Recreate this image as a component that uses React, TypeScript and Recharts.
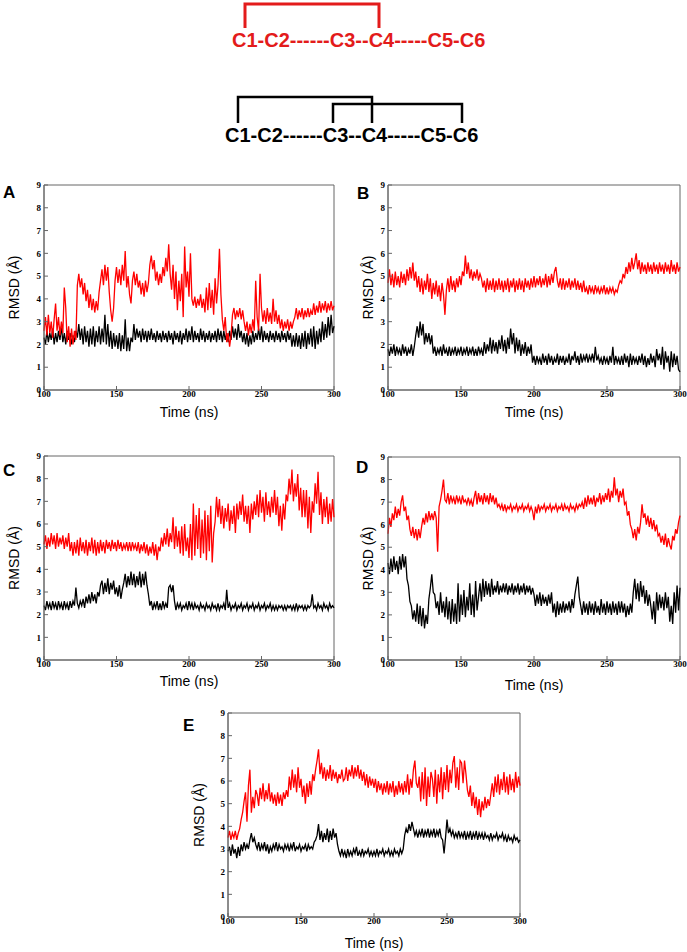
import React from 'react';
import { LineChart, Line, XAxis, YAxis, ReferenceArea } from 'recharts';

// trajectory sampled every 1 ns from 100 to 300 ns
const T_START = 100;
const T_STEP = 1;

const X_TICKS = [100, 150, 200, 250, 300];
const Y_TICKS = [0, 1, 2, 3, 4, 5, 6, 7, 8, 9];

// RMSD (Å), one row = 20 ns
const A_RED = [
  2.6, 3.2, 2.4, 3.3, 2.5, 3.0, 2.3, 3.1, 3.8, 2.6, 3.2, 2.4, 3.0, 2.5, 4.5, 3.6, 2.1, 2.8, 1.9, 2.7,
  2.0, 2.6, 2.2, 4.6, 5.1, 4.5, 4.9, 4.2, 4.7, 3.9, 4.4, 3.6, 4.2, 3.5, 4.0, 3.4, 3.9, 3.5, 4.3, 4.8,
  5.3, 4.6, 5.5, 4.8, 5.4, 4.3, 3.5, 3.0, 3.6, 4.8, 5.4, 4.7, 5.3, 4.6, 5.5, 4.8, 6.1, 4.5, 5.0, 4.2,
  3.8, 4.8, 5.2, 4.6, 5.1, 4.5, 4.8, 4.2, 4.7, 4.1, 4.8, 4.3, 4.7, 5.5, 5.9, 5.3, 5.7, 4.8, 5.2, 4.6,
  5.1, 4.7, 5.4, 5.0, 5.8, 5.2, 6.4, 5.1, 4.4, 5.5, 4.0, 5.2, 3.5, 4.8, 3.9, 5.1, 3.2, 6.3, 4.5, 5.2,
  4.1, 6.0, 4.0, 3.7, 4.1, 3.6, 4.0, 3.7, 4.2, 3.6, 4.0, 3.4, 4.5, 3.5, 4.7, 3.6, 4.4, 3.3, 4.9, 3.8,
  4.6, 6.2, 4.2, 3.1, 2.6, 3.2, 2.1, 2.5, 1.9, 2.4, 3.3, 3.6, 3.1, 3.5, 3.2, 3.6, 3.1, 3.5, 3.0, 2.6,
  3.0, 2.4, 2.9, 2.5, 3.1, 2.6, 4.8, 3.2, 2.6, 5.1, 3.6, 3.0, 3.5, 2.9, 3.6, 3.0, 3.4, 2.9, 4.0, 3.0,
  3.5, 2.9, 3.3, 2.7, 3.1, 2.6, 3.0, 2.7, 3.1, 2.6, 3.0, 2.7, 3.0, 3.2, 3.6, 3.1, 3.5, 3.2, 3.6, 3.1,
  3.5, 3.2, 3.6, 3.2, 3.5, 3.3, 3.8, 3.3, 3.7, 3.4, 3.9, 3.4, 3.8, 3.5, 3.9, 3.4, 3.8, 3.5, 3.9, 3.5,
  3.7,
];
const A_BLACK = [
  2.3, 2.0, 2.6, 2.1, 2.5, 2.2, 2.7, 2.0, 2.5, 2.1, 2.6, 2.2, 2.8, 2.1, 2.5, 2.0, 2.6, 2.2, 2.5, 2.0,
  2.4, 2.1, 2.6, 2.3, 2.9, 2.2, 2.7, 2.0, 2.8, 2.1, 2.6, 1.9, 2.7, 2.0, 2.8, 1.9, 2.6, 2.1, 2.8, 2.0,
  2.7, 2.1, 3.3, 2.0, 2.9, 1.9, 2.6, 1.8, 2.5, 1.9, 2.4, 1.8, 2.5, 1.7, 2.4, 1.8, 3.1, 1.7, 2.3, 1.7,
  2.3, 2.1, 2.9, 2.2, 2.7, 2.3, 2.6, 2.1, 2.7, 2.2, 2.6, 2.1, 2.6, 2.2, 2.7, 2.2, 2.5, 2.1, 2.6, 2.2,
  2.5, 2.1, 2.6, 2.2, 2.5, 2.1, 2.6, 2.2, 2.5, 2.0, 2.6, 2.2, 2.5, 2.1, 2.6, 2.0, 2.5, 2.2, 2.7, 2.1,
  2.6, 2.2, 2.8, 2.1, 2.6, 2.2, 2.5, 2.1, 2.7, 2.2, 2.6, 2.1, 2.5, 2.2, 2.6, 2.1, 2.5, 2.2, 2.6, 2.1,
  2.7, 2.2, 2.6, 2.1, 2.6, 2.2, 2.5, 2.1, 2.6, 2.2, 2.8, 2.3, 2.7, 2.2, 2.9, 2.3, 2.6, 2.1, 2.5, 2.0,
  2.5, 1.9, 2.4, 2.0, 2.6, 2.1, 2.5, 2.2, 2.7, 2.2, 2.8, 2.1, 2.6, 2.2, 2.5, 2.1, 2.6, 2.2, 2.5, 2.1,
  2.6, 2.2, 2.5, 2.1, 2.6, 2.2, 2.5, 2.1, 2.6, 2.2, 2.5, 1.9, 2.4, 1.9, 2.5, 1.9, 2.4, 1.8, 2.5, 1.9,
  2.6, 1.8, 2.5, 2.0, 2.7, 1.9, 2.8, 1.8, 2.6, 2.0, 2.7, 2.1, 3.0, 2.2, 2.9, 2.3, 3.2, 2.4, 3.3, 2.5,
  2.8,
];

const B_RED = [
  4.7, 5.3, 4.6, 5.1, 4.5, 5.2, 4.6, 5.0, 4.5, 5.2, 4.7, 5.1, 4.6, 5.3, 4.8, 5.4, 4.9, 5.6, 4.8, 5.2,
  4.5, 5.0, 4.3, 4.9, 4.2, 4.8, 4.4, 5.1, 4.3, 4.9, 4.0, 4.7, 4.2, 4.8, 4.1, 4.6, 3.9, 4.7, 4.2, 3.3,
  4.4, 4.9, 4.3, 5.0, 4.4, 4.8, 4.3, 4.9, 4.5, 5.0, 4.6, 5.2, 5.0, 5.9, 5.1, 5.6, 4.9, 5.3, 4.8, 5.2,
  4.9, 5.3, 4.8, 5.1, 4.9, 4.5, 4.8, 4.3, 4.9, 4.4, 4.8, 4.4, 4.9, 4.3, 4.8, 4.4, 4.9, 4.4, 4.8, 4.3,
  4.8, 4.4, 4.9, 4.3, 4.8, 4.5, 4.9, 4.3, 4.8, 4.4, 4.9, 4.4, 4.8, 4.3, 4.9, 4.5, 4.8, 4.4, 4.9, 4.5,
  5.0, 4.5, 4.9, 4.6, 5.0, 4.5, 4.9, 4.6, 5.1, 4.5, 5.0, 4.6, 5.1, 4.7, 5.2, 5.4, 4.8, 4.5, 4.9, 4.4,
  4.9, 4.4, 4.8, 4.5, 4.9, 4.4, 4.8, 4.5, 4.9, 4.4, 4.8, 4.4, 4.7, 4.3, 4.8, 4.3, 4.5, 4.2, 4.6, 4.3,
  4.5, 4.2, 4.6, 4.3, 4.5, 4.2, 4.5, 4.3, 4.6, 4.2, 4.5, 4.2, 4.5, 4.3, 4.5, 4.2, 4.4, 4.3, 4.6, 4.8,
  4.7, 5.1, 4.9, 5.4, 5.1, 5.6, 5.2, 5.8, 5.3, 5.6, 6.0, 5.3, 5.7, 5.1, 5.6, 5.2, 5.5, 5.1, 5.6, 5.2,
  5.5, 5.1, 5.6, 5.2, 5.5, 5.1, 5.6, 5.2, 5.5, 5.1, 5.6, 5.2, 5.5, 5.1, 5.7, 5.2, 5.5, 5.1, 5.6, 5.2,
  5.4,
];
const B_BLACK = [
  1.8, 1.5, 1.9, 1.6, 2.0, 1.5, 1.9, 1.6, 1.8, 1.5, 2.0, 1.6, 1.9, 1.5, 1.8, 1.6, 2.0, 1.5, 1.9, 2.4,
  2.8, 2.3, 3.0, 2.4, 2.9, 2.0, 2.5, 2.1, 2.5, 2.0, 2.4, 1.6, 1.9, 1.5, 1.8, 1.6, 1.9, 1.5, 2.0, 1.6,
  1.8, 1.5, 1.9, 1.5, 1.8, 1.6, 1.9, 1.5, 1.8, 1.6, 1.9, 1.5, 1.8, 1.6, 1.9, 1.5, 1.8, 1.6, 1.9, 1.5,
  1.8, 1.5, 1.9, 1.6, 1.8, 1.5, 2.1, 1.6, 2.0, 1.7, 2.3, 1.6, 2.2, 1.7, 2.1, 1.6, 2.2, 1.8, 2.4, 1.7,
  2.2, 1.6, 2.3, 1.8, 2.7, 2.0, 2.5, 1.6, 2.3, 1.7, 2.2, 1.5, 2.0, 1.6, 2.1, 1.5, 1.9, 1.6, 2.0, 1.2,
  1.5, 1.1, 1.5, 1.2, 1.4, 1.1, 1.6, 1.2, 1.5, 1.1, 1.6, 1.2, 1.5, 1.1, 1.4, 1.2, 1.6, 1.1, 1.5, 1.2,
  1.5, 1.1, 1.4, 1.2, 1.6, 1.1, 1.5, 1.3, 1.7, 1.2, 1.5, 1.1, 1.6, 1.2, 1.5, 1.3, 1.6, 1.2, 1.5, 1.3,
  1.6, 1.2, 1.9, 1.3, 1.5, 1.2, 1.4, 1.1, 1.5, 1.2, 1.4, 1.1, 1.5, 1.2, 1.9, 1.1, 1.5, 1.2, 1.4, 1.1,
  1.5, 1.1, 1.6, 1.2, 1.5, 1.0, 1.6, 1.1, 1.5, 1.2, 1.4, 1.1, 1.5, 1.2, 1.6, 1.1, 1.5, 1.0, 1.4, 1.1,
  1.6, 1.2, 1.5, 1.0, 1.8, 1.3, 1.6, 1.1, 1.9, 0.9, 1.7, 1.2, 1.5, 0.8, 1.7, 1.0, 1.6, 1.1, 1.5, 0.9,
  0.8,
];

const C_RED = [
  5.1, 5.5, 4.9, 5.4, 5.0, 5.6, 5.1, 5.5, 4.9, 5.6, 5.0, 5.4, 5.1, 5.5, 4.9, 5.4, 5.0, 5.6, 4.8, 5.2,
  4.6, 5.2, 4.7, 5.3, 4.6, 5.4, 4.8, 5.2, 4.7, 5.3, 4.6, 5.2, 4.8, 5.4, 4.7, 5.3, 4.6, 5.2, 4.7, 5.3,
  4.8, 5.2, 4.7, 5.3, 4.9, 5.2, 4.8, 5.3, 4.9, 5.2, 4.8, 5.3, 4.9, 5.2, 4.8, 5.1, 4.9, 5.2, 4.8, 5.2,
  4.8, 5.2, 4.9, 5.1, 4.8, 5.2, 4.7, 5.1, 4.8, 5.2, 4.7, 5.1, 4.6, 5.0, 4.7, 5.2, 4.6, 5.1, 4.4, 5.0,
  4.8, 5.4, 5.0, 5.6, 5.1, 5.8, 5.0, 5.6, 5.2, 6.3, 4.9, 5.9, 5.0, 5.7, 4.7, 5.9, 4.6, 6.0, 4.8, 5.4,
  4.5, 6.0, 4.4, 6.9, 4.6, 6.4, 4.9, 6.7, 4.5, 6.2, 4.7, 6.6, 4.4, 6.4, 4.8, 6.8, 4.3, 5.6, 6.1, 7.2,
  6.3, 7.1, 6.0, 6.8, 5.8, 6.7, 6.1, 6.9, 5.7, 6.6, 6.0, 6.8, 5.6, 6.9, 6.2, 7.0, 6.4, 7.3, 6.1, 6.8,
  6.0, 6.8, 5.6, 6.9, 6.2, 7.0, 6.4, 7.3, 6.3, 7.5, 6.5, 7.2, 6.1, 7.4, 6.4, 7.0, 6.3, 7.2, 6.5, 7.5,
  6.4, 7.2, 5.9, 6.8, 5.7, 6.9, 6.2, 7.3, 7.0, 8.0, 7.3, 8.4, 7.0, 7.8, 7.2, 8.2, 6.6, 7.6, 6.3, 7.5,
  6.3, 7.5, 5.8, 7.2, 5.6, 7.0, 6.5, 7.8, 6.9, 8.3, 6.4, 7.4, 6.0, 7.1, 6.3, 7.2, 6.0, 6.9, 6.1, 7.1,
  6.3,
];
const C_BLACK = [
  2.4, 2.2, 2.6, 2.3, 2.5, 2.2, 2.6, 2.3, 2.5, 2.2, 2.6, 2.3, 2.5, 2.2, 2.6, 2.3, 2.5, 2.2, 2.6, 2.3,
  2.6, 2.4, 3.2, 2.5, 2.3, 2.6, 2.4, 2.7, 2.3, 2.8, 2.5, 2.9, 2.5, 3.0, 2.6, 2.9, 2.5, 3.0, 2.8, 3.3,
  3.5, 2.9, 3.4, 3.0, 3.6, 2.9, 3.4, 3.1, 3.5, 2.9, 3.2, 2.8, 3.3, 2.7, 3.1, 3.4, 3.8, 3.2, 3.7, 3.3,
  3.9, 3.3, 3.8, 3.2, 3.7, 3.3, 3.9, 3.2, 3.8, 3.3, 3.9, 3.3, 2.9, 2.4, 2.6, 2.2, 2.5, 2.3, 2.6, 2.2,
  2.5, 2.2, 2.6, 2.3, 2.5, 2.3, 3.2, 3.3, 3.0, 3.3, 2.6, 2.2, 2.5, 2.3, 2.5, 2.2, 2.4, 2.3, 2.5, 2.2,
  2.6, 2.3, 2.5, 2.2, 2.5, 2.3, 2.4, 2.2, 2.5, 2.3, 2.4, 2.2, 2.5, 2.3, 2.4, 2.2, 2.5, 2.3, 2.4, 2.2,
  2.5, 2.2, 2.4, 2.3, 2.5, 2.2, 3.1, 2.3, 2.5, 2.2, 2.4, 2.3, 2.5, 2.2, 2.4, 2.3, 2.5, 2.2, 2.4, 2.3,
  2.5, 2.2, 2.4, 2.3, 2.5, 2.2, 2.4, 2.3, 2.5, 2.2, 2.4, 2.3, 2.5, 2.2, 2.4, 2.3, 2.5, 2.2, 2.4, 2.2,
  2.4, 2.2, 2.4, 2.3, 2.4, 2.2, 2.4, 2.2, 2.4, 2.3, 2.4, 2.2, 2.4, 2.2, 2.5, 2.2, 2.4, 2.3, 2.4, 2.2,
  2.4, 2.2, 2.4, 2.3, 2.4, 2.9, 2.3, 2.4, 2.2, 2.5, 2.3, 2.4, 2.2, 2.5, 2.3, 2.4, 2.2, 2.5, 2.3, 2.4,
  2.3,
];

const D_RED = [
  5.6, 6.3, 5.9, 6.5, 6.2, 6.8, 6.3, 6.7, 6.4, 7.0, 7.3, 6.6, 6.8, 6.2, 6.4, 5.8, 5.5, 5.9, 5.4, 5.8,
  5.3, 5.8, 5.4, 5.9, 6.3, 6.0, 6.5, 6.1, 6.6, 6.2, 6.5, 6.2, 6.6, 6.3, 4.8, 6.8, 7.1, 7.5, 8.0, 7.1,
  7.0, 7.4, 6.9, 7.3, 7.0, 7.2, 6.9, 7.3, 7.0, 7.2, 6.9, 7.3, 7.0, 7.1, 6.9, 7.2, 6.9, 7.1, 6.8, 7.2,
  7.5, 6.9, 7.4, 7.0, 7.3, 6.9, 7.4, 7.0, 7.3, 6.9, 7.4, 7.0, 7.3, 6.9, 7.2, 6.8, 6.9, 6.7, 6.9, 6.6,
  6.9, 6.6, 6.8, 6.7, 6.9, 6.6, 6.8, 6.7, 6.9, 6.6, 6.8, 6.7, 6.9, 6.6, 6.8, 6.7, 6.9, 6.6, 6.8, 6.6,
  6.2, 6.8, 6.5, 6.9, 6.6, 6.8, 6.7, 6.9, 6.6, 6.8, 6.7, 6.9, 6.6, 6.8, 6.7, 6.9, 6.6, 6.8, 6.7, 6.9,
  6.6, 6.9, 6.7, 6.8, 6.6, 6.9, 6.7, 6.8, 6.6, 6.9, 6.7, 6.9, 6.8, 7.0, 6.7, 7.2, 6.8, 7.3, 6.9, 7.2,
  6.9, 7.3, 6.8, 7.2, 7.0, 7.4, 6.9, 7.3, 7.0, 7.4, 7.1, 7.6, 7.0, 7.5, 7.2, 8.1, 7.3, 7.6, 7.0, 7.5,
  7.2, 7.6, 6.9, 7.0, 6.4, 6.6, 6.0, 5.8, 5.4, 5.8, 5.3, 5.9, 5.6, 6.1, 6.9, 6.3, 6.5, 6.0, 6.4, 5.9,
  6.3, 5.8, 6.2, 5.7, 6.0, 5.5, 5.6, 5.2, 5.5, 5.1, 5.6, 5.0, 5.4, 5.1, 4.9, 5.5, 5.3, 5.8, 5.6, 6.1,
  6.4,
];
const D_BLACK = [
  4.3, 3.8, 4.5, 3.9, 4.6, 4.0, 4.4, 3.8, 4.6, 4.0, 4.7, 4.1, 4.6, 3.6, 3.3, 2.6, 2.4, 1.8, 2.2, 1.7,
  2.5, 1.6, 2.4, 1.5, 2.3, 1.4, 2.0, 1.6, 2.7, 3.2, 3.8, 3.0, 2.9, 2.3, 2.6, 2.0, 3.0, 2.1, 2.6, 1.9,
  2.8, 1.8, 2.6, 1.6, 2.7, 1.7, 2.5, 1.6, 3.4, 1.7, 2.9, 2.0, 3.1, 1.9, 2.8, 2.2, 3.4, 2.0, 2.9, 1.9,
  3.5, 2.2, 2.8, 3.4, 2.6, 3.6, 2.8, 3.5, 2.9, 3.4, 2.8, 3.6, 2.9, 3.3, 3.0, 3.5, 2.9, 3.3, 3.0, 3.4,
  3.0, 3.4, 2.9, 3.3, 3.0, 3.4, 2.9, 3.3, 3.0, 3.4, 2.9, 3.3, 3.0, 3.4, 2.9, 3.3, 3.0, 3.3, 2.9, 3.2,
  2.9, 2.4, 2.9, 2.5, 3.0, 2.4, 2.9, 2.5, 2.8, 2.4, 2.9, 2.5, 3.0, 2.1, 2.5, 1.9, 2.6, 2.0, 2.5, 2.1,
  2.6, 2.1, 2.5, 2.2, 2.6, 2.1, 2.7, 2.3, 2.9, 3.3, 3.7, 2.8, 2.4, 2.0, 2.6, 2.1, 2.5, 2.0, 2.6, 2.1,
  2.5, 2.0, 2.6, 2.1, 2.4, 2.0, 2.7, 2.1, 2.5, 2.0, 2.6, 2.1, 2.5, 2.0, 2.6, 2.1, 2.5, 2.0, 2.6, 2.1,
  2.6, 2.1, 2.5, 1.9, 2.4, 2.0, 2.5, 2.1, 3.0, 3.6, 2.7, 3.4, 2.6, 3.5, 2.8, 3.3, 2.5, 3.1, 2.4, 2.9,
  2.4, 1.8, 2.6, 1.6, 3.0, 2.2, 2.9, 2.3, 2.8, 2.2, 3.0, 2.3, 2.8, 1.7, 2.4, 1.6, 3.0, 2.1, 3.3, 2.2,
  3.2,
];

const E_RED = [
  3.5, 3.8, 3.4, 3.7, 3.5, 3.8, 3.4, 3.7, 3.9, 4.3, 4.6, 5.1, 5.5, 4.2, 5.8, 6.5, 4.6, 5.3, 4.8, 5.6,
  5.4, 4.9, 5.7, 5.2, 5.9, 5.1, 5.6, 5.2, 5.9, 5.1, 5.5, 5.0, 5.4, 4.9, 5.5, 5.0, 5.4, 4.9, 5.5, 5.2,
  5.6, 5.3, 6.2, 5.6, 6.5, 5.7, 6.3, 5.5, 6.6, 5.7, 6.1, 5.3, 5.8, 5.0, 5.9, 5.3, 6.0, 5.4, 6.3, 6.0,
  6.5, 6.9, 7.4, 6.3, 6.8, 6.1, 6.6, 6.0, 6.5, 6.1, 6.7, 6.0, 6.5, 6.1, 6.4, 5.9, 6.3, 6.1, 6.5, 6.0,
  6.1, 6.6, 6.0, 6.5, 6.2, 6.7, 6.1, 6.6, 6.2, 6.7, 6.1, 6.5, 6.0, 6.4, 5.8, 6.3, 5.7, 6.2, 5.8, 6.1,
  5.7, 6.1, 5.5, 6.0, 5.6, 5.9, 5.4, 5.9, 5.5, 6.0, 5.4, 5.9, 5.5, 6.0, 5.3, 5.8, 5.4, 6.0, 5.5, 5.9,
  5.4, 6.0, 5.5, 6.3, 5.4, 6.1, 5.7, 6.5, 6.9, 5.9, 5.7, 6.2, 5.1, 6.4, 5.2, 6.6, 4.9, 6.2, 5.3, 6.4,
  6.1, 5.3, 6.5, 5.0, 6.3, 5.5, 6.6, 5.2, 6.4, 5.6, 6.7, 5.5, 6.5, 5.9, 6.8, 7.1, 5.7, 6.6, 5.6, 6.9,
  6.8, 5.9, 6.9, 6.3, 5.6, 5.3, 5.8, 4.9, 5.5, 4.8, 5.3, 4.5, 5.2, 4.4, 5.1, 4.7, 5.3, 4.8, 5.2, 4.9,
  5.4, 5.9, 5.3, 6.2, 5.5, 6.3, 5.4, 6.1, 5.6, 6.4, 5.5, 6.2, 5.4, 6.3, 5.6, 6.1, 5.5, 6.4, 5.7, 6.2,
  5.8,
];
const E_BLACK = [
  2.9, 3.1, 2.7, 3.2, 2.8, 3.0, 2.6, 3.1, 2.7, 3.2, 2.9, 3.3, 3.0, 3.2, 3.0, 3.4, 3.7, 3.3, 3.5, 3.2,
  3.0, 3.3, 2.9, 3.2, 3.0, 3.3, 2.9, 3.2, 2.8, 3.1, 2.9, 3.2, 3.0, 3.3, 2.9, 3.2, 3.0, 3.1, 2.9, 3.2,
  3.0, 3.2, 2.9, 3.2, 3.0, 3.3, 2.9, 3.1, 3.0, 3.2, 2.9, 3.1, 3.0, 3.2, 2.9, 3.2, 3.0, 3.1, 3.0, 3.3,
  3.4, 3.6, 4.1, 3.4, 3.8, 3.3, 3.7, 3.4, 3.9, 3.3, 3.8, 3.4, 3.9, 3.5, 3.7, 3.2, 2.9, 2.7, 3.0, 2.7,
  2.9, 2.6, 3.0, 2.7, 2.9, 2.7, 3.0, 2.8, 3.1, 2.7, 2.9, 2.7, 3.0, 2.7, 2.9, 2.8, 3.0, 2.7, 2.9, 2.7,
  2.9, 2.7, 3.0, 2.7, 2.9, 2.8, 3.0, 2.7, 2.9, 2.8, 3.0, 2.7, 2.9, 2.7, 3.0, 2.8, 2.9, 2.7, 3.0, 2.8,
  3.0, 3.6, 3.9, 3.7, 4.1, 3.8, 4.2, 3.9, 3.6, 3.8, 3.5, 3.8, 3.6, 3.9, 3.5, 3.8, 3.6, 3.9, 3.5, 3.8,
  3.6, 3.9, 3.5, 3.8, 3.6, 3.9, 3.5, 3.4, 2.8, 3.5, 4.3, 3.7, 3.9, 3.6, 3.8, 3.5, 3.7, 3.5, 3.8, 3.5,
  3.7, 3.5, 3.8, 3.4, 3.7, 3.5, 3.8, 3.4, 3.7, 3.5, 3.8, 3.4, 3.7, 3.5, 3.7, 3.4, 3.7, 3.5, 3.6, 3.4,
  3.7, 3.4, 3.6, 3.5, 3.7, 3.4, 3.6, 3.5, 3.7, 3.4, 3.6, 3.3, 3.6, 3.4, 3.5, 3.3, 3.6, 3.4, 3.5, 3.3,
  3.4,
];

// where each panel sits on the page
const PANELS = [
  { id: 'A', red: A_RED, black: A_BLACK, left: 44, top: 185, w: 290, h: 205, yLab: 14, timeOff: 17 },
  { id: 'B', red: B_RED, black: B_BLACK, left: 388, top: 185, w: 292, h: 205, yLab: 24, timeOff: 17 },
  { id: 'C', red: C_RED, black: C_BLACK, left: 44, top: 456, w: 290, h: 204, yLab: 14, timeOff: 16 },
  { id: 'D', red: D_RED, black: D_BLACK, left: 388, top: 457, w: 292, h: 203, yLab: 24, timeOff: 20 },
  { id: 'E', red: E_RED, black: E_BLACK, left: 228, top: 713, w: 292, h: 204, yLab: 15, timeOff: 21 },
];

const LETTERS = [
  { id: 'A', x: 3, y: 198 },
  { id: 'B', x: 357, y: 199 },
  { id: 'C', x: 3, y: 476 },
  { id: 'D', x: 356, y: 473 },
  { id: 'E', x: 183, y: 731 },
];

const SANS = '"Liberation Sans", Arial, sans-serif';
const SERIF = '"Liberation Serif", "Times New Roman", serif';
const FRAME = '#666';

const tickStyle = { fontSize: 9, fontFamily: SERIF, fontWeight: 'bold', fill: '#000' };

function Panel({ p }: { p: (typeof PANELS)[number] }) {
  const rows = p.red.map((r, i) => ({ t: T_START + i * T_STEP, red: r, black: p.black[i] }));
  return (
    <div style={{ position: 'absolute', left: p.left - 44, top: p.top - 15 }}>
      <LineChart
        width={p.w + 54}
        height={p.h + 51}
        data={rows}
        margin={{ top: 15, right: 10, bottom: 0, left: 0 }}
      >
        <XAxis
          dataKey="t"
          type="number"
          domain={[100, 300]}
          ticks={X_TICKS}
          interval={0}
          height={36}
          tickSize={-4}
          tickMargin={5}
          tick={tickStyle}
          axisLine={{ stroke: FRAME }}
          tickLine={{ stroke: FRAME }}
          label={{
            value: 'Time (ns)',
            position: 'insideTop',
            offset: p.timeOff,
            style: { fontSize: 14, fontFamily: SANS, fill: '#000' },
          }}
        />
        <YAxis
          type="number"
          domain={[0, 9]}
          ticks={Y_TICKS}
          interval={0}
          width={44}
          tickSize={-4}
          tickMargin={7}
          tick={tickStyle}
          axisLine={{ stroke: FRAME }}
          tickLine={{ stroke: FRAME }}
          label={{
            value: 'RMSD (Å)',
            angle: -90,
            position: 'insideLeft',
            offset: p.yLab,
            style: { fontSize: 14, fontFamily: SANS, fill: '#000', textAnchor: 'middle' },
          }}
        />
        <ReferenceArea x1={100} x2={300} y1={0} y2={9} fill="none" stroke={FRAME} strokeWidth={1} />
        <Line dataKey="black" stroke="#000" strokeWidth={1.3} dot={false} activeDot={false} isAnimationActive={false} />
        <Line dataKey="red" stroke="#ff0000" strokeWidth={1.3} dot={false} activeDot={false} isAnimationActive={false} />
      </LineChart>
    </div>
  );
}

export default function App() {
  return (
    <div style={{ position: 'absolute', left: 0, top: 0, width: 687, height: 952, background: '#fff', overflow: 'hidden' }}>
      {PANELS.map((p) => (
        <Panel key={p.id} p={p} />
      ))}
      <svg width={687} height={952} style={{ position: 'absolute', left: 0, top: 0, pointerEvents: 'none' }}>
        {/* disulfide connectivity diagram */}
        <polyline points="245,28 245,4 379,4 379,28" fill="none" stroke="#e31b1b" strokeWidth={3} />
        <text x={232} y={47} fontFamily={SANS} fontWeight="bold" fontSize={20} fill="#e31b1b">
          C1-C2------C3--C4-----C5-C6
        </text>
        <polyline points="238,123 238,97 372,97 372,123" fill="none" stroke="#000" strokeWidth={2.5} />
        <polyline points="333,123 333,104 462,104 462,123" fill="none" stroke="#000" strokeWidth={2.5} />
        <text x={225} y={142} fontFamily={SANS} fontWeight="bold" fontSize={20} fill="#000">
          C1-C2------C3--C4-----C5-C6
        </text>
        {LETTERS.map((l) => (
          <text key={l.id} x={l.x} y={l.y} fontFamily={SANS} fontWeight="bold" fontSize={17} fill="#000">
            {l.id}
          </text>
        ))}
      </svg>
    </div>
  );
}
